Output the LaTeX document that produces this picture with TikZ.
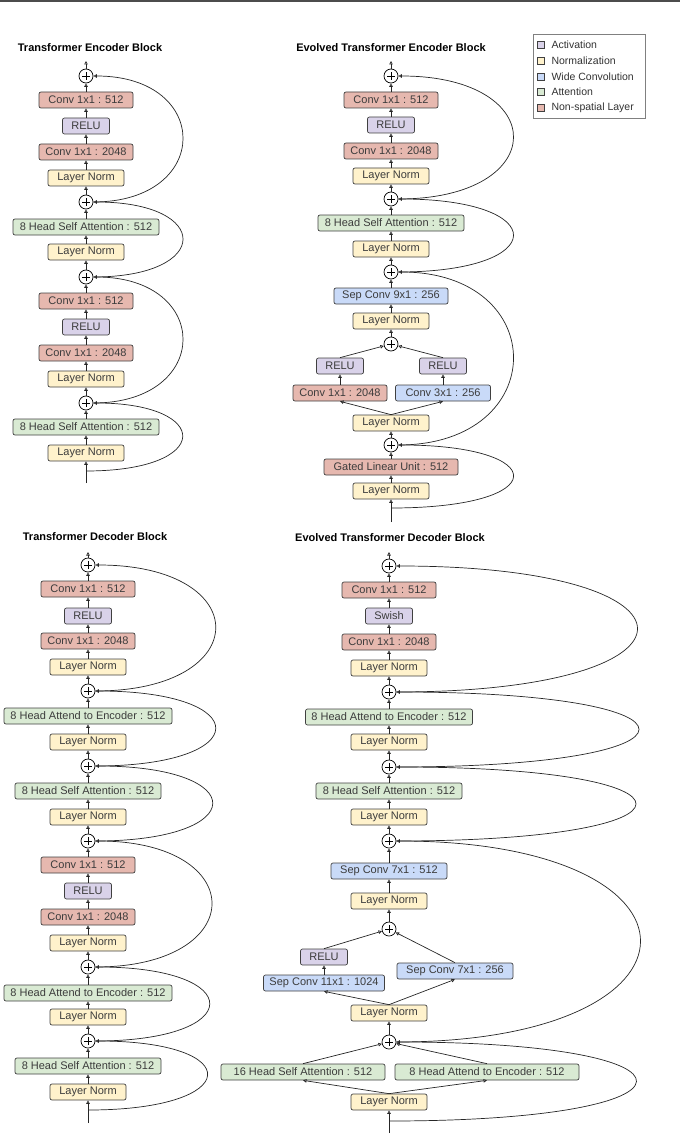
\documentclass[tikz,border=0pt]{standalone}
\usepackage{fontspec}
\setmainfont{Liberation Sans}
\usetikzlibrary{arrows.meta}
\definecolor{actfill}{HTML}{D9D2E9}
\definecolor{normfill}{HTML}{FFF2CC}
\definecolor{widefill}{HTML}{C9DAF8}
\definecolor{attnfill}{HTML}{D9EAD3}
\definecolor{nspfill}{HTML}{E6B8AF}
\definecolor{edgegray}{HTML}{404040}
\definecolor{txtgray}{HTML}{3C3C3C}
\begin{document}
\begin{tikzpicture}[x=1pt, y=-1pt, >={Triangle[open,length=3.5pt,width=3.5pt]},
  every node/.style={font=\fontsize{11}{13}\selectfont},
  blockbox/.style={draw=edgegray, rounded corners=2pt, minimum height=16pt, inner xsep=2pt, inner ysep=0pt, text=txtgray, line width=0.7pt},
  act/.style={blockbox, fill=actfill, minimum width=47pt},
  norm/.style={blockbox, fill=normfill, minimum width=76pt},
  wide/.style={blockbox, fill=widefill},
  attn/.style={blockbox, fill=attnfill},
  nsp/.style={blockbox, fill=nspfill},
  conv/.style={nsp, minimum width=94pt},
  plus/.style={circle, draw=black, minimum size=14pt, inner sep=0pt, line width=0.7pt,
    path picture={\draw[line width=0.7pt] ([xshift=-4pt]path picture bounding box.center) -- ([xshift=4pt]path picture bounding box.center)
      ([yshift=-4pt]path picture bounding box.center) -- ([yshift=4pt]path picture bounding box.center);}},
  blocktitle/.style={font=\fontsize{11}{13}\selectfont\bfseries},
  flow/.style={->, line width=0.7pt, black!85},
  skipline/.style={->, line width=0.7pt, black!85},
  legkey/.style={draw=edgegray, minimum size=7pt, inner sep=0pt, line width=0.6pt}]
\useasboundingbox (0,0) rectangle (680,1134);
\draw[line width=2pt, black!70] (0,1) -- (680,1);

% legend
\draw[gray, line width=0.7pt, fill=white] (533,34) rectangle (645,118);
\foreach \c/\t [count=\i] in {actfill/Activation, normfill/Normalization, widefill/Wide Convolution, attnfill/Attention, nspfill/Non-spatial Layer} {
  \node[legkey, fill=\c] (k\i) at (541,29+15.8*\i) {};
  \node[anchor=west, font=\fontsize{10.5}{12}\selectfont, text=black!80] (l\i) at (548,29+15.8*\i) {\t};
}

% Transformer encoder
\node[blocktitle] (tenc) at (90,48) {Transformer Encoder Block};
\coordinate (etop) at (86,61);
\node[plus] (ea1) at (86,76) {};
\node[conv] (ec1) at (86,100) {Conv 1x1 : 512};
\node[act] (er1) at (86,126) {RELU};
\node[conv] (ec2) at (86,152) {Conv 1x1 : 2048};
\node[norm] (en1) at (86,178) {Layer Norm};
\node[plus] (ea2) at (86,202) {};
\node[attn, minimum width=146pt] (es1) at (86,227) {8 Head Self Attention : 512};
\node[norm] (en2) at (86,252) {Layer Norm};
\node[plus] (ea3) at (86,277) {};
\node[conv] (ec3) at (86,301) {Conv 1x1 : 512};
\node[act] (er2) at (86,327) {RELU};
\node[conv] (ec4) at (86,353) {Conv 1x1 : 2048};
\node[norm] (en3) at (86,379) {Layer Norm};
\node[plus] (ea4) at (86,403) {};
\node[attn, minimum width=146pt] (es2) at (86,427) {8 Head Self Attention : 512};
\node[norm] (en4) at (86,453) {Layer Norm};
\coordinate (ein) at (86,471);
\coordinate (ebot) at (86,483);
\draw[line width=0.7pt, black!85] (ebot) -- (ein);
\foreach \a/\b in {ein/en4, en4/es2, es2/ea4, ea4/en3, en3/ec4, ec4/er2, er2/ec3, ec3/ea3, ea3/en2, en2/es1, es1/ea2, ea2/en1, en1/ec2, ec2/er1, er1/ec1, ec1/ea1, ea1/etop}
  \draw[flow] (\a) -- (\b);
\draw[skipline] (ein) .. controls +(128,0) and +(119,0) .. (ea4.east);
\draw[skipline] (ea4.east) .. controls +(119,0) and +(119,0) .. (ea3.east);
\draw[skipline] (ea3.east) .. controls +(119,0) and +(119,0) .. (ea2.east);
\draw[skipline] (ea2.east) .. controls +(119,0) and +(119,0) .. (ea1.east);

% Evolved transformer encoder
\node[blocktitle] (venc) at (391,48) {Evolved Transformer Encoder Block};
\coordinate (vtop) at (391,61);
\node[plus] (va1) at (391,76) {};
\node[conv] (vc1) at (391,100) {Conv 1x1 : 512};
\node[act] (vr1) at (391,125) {RELU};
\node[conv] (vc2) at (391,151) {Conv 1x1 : 2048};
\node[norm] (vn1) at (391,176) {Layer Norm};
\node[plus] (va2) at (391,199) {};
\node[attn, minimum width=146pt] (vs1) at (391,223) {8 Head Self Attention : 512};
\node[norm] (vn2) at (391,249) {Layer Norm};
\node[plus] (va3) at (391,272) {};
\node[wide, minimum width=114pt] (vw1) at (391,296) {Sep Conv 9x1 : 256};
\node[norm] (vn3) at (391,321) {Layer Norm};
\node[plus] (va4) at (391,344) {};
\node[act] (vrl) at (340,366) {RELU};
\node[act] (vrr) at (443,366) {RELU};
\node[conv] (vcl) at (340,393) {Conv 1x1 : 2048};
\node[wide, minimum width=95pt] (vwr) at (443,393) {Conv 3x1 : 256};
\node[norm] (vn4) at (391,423) {Layer Norm};
\node[plus] (va5) at (391,445) {};
\node[nsp, minimum width=134pt] (vg) at (391,467) {Gated Linear Unit : 512};
\node[norm] (vn5) at (391,491) {Layer Norm};
\coordinate (vin) at (391,508);
\coordinate (vbot) at (391,522);
\draw[line width=0.7pt, black!85] (vbot) -- (vin);
\foreach \a/\b in {vin/vn5, vn5/vg, vg/va5, va5/vn4, vcl/vrl, vwr/vrr, va4/vn3, vn3/vw1, vw1/va3, va3/vn2, vn2/vs1, vs1/va2, va2/vn1, vn1/vc2, vc2/vr1, vr1/vc1, vc1/va1, va1/vtop}
  \draw[flow] (\a) -- (\b);
\draw[flow] (vn4.north) -- (vcl.south);
\draw[flow] (vn4.north) -- (vwr.south);
\draw[flow] (vrl.north) -- (va4);
\draw[flow] (vrr.north) -- (va4);
\draw[skipline] (vin) .. controls +(163,0) and +(153,0) .. (va5.east);
\draw[skipline] (va5.east) .. controls +(153,0) and +(153,0) .. (va3.east);
\draw[skipline] (va3.east) .. controls +(153,0) and +(153,0) .. (va2.east);
\draw[skipline] (va2.east) .. controls +(153,0) and +(153,0) .. (va1.east);

% Transformer decoder
\node[blocktitle] (tdec) at (95,537) {Transformer Decoder Block};
\coordinate (dtop) at (88,552);
\node[plus] (da1) at (88,565) {};
\node[conv] (dc1) at (88,589) {Conv 1x1 : 512};
\node[act] (dr1) at (88,616) {RELU};
\node[conv] (dc2) at (88,641) {Conv 1x1 : 2048};
\node[norm] (dn1) at (88,667) {Layer Norm};
\node[plus] (da2) at (88,691) {};
\node[attn, minimum width=168pt] (dt1) at (88,716) {8 Head Attend to Encoder : 512};
\node[norm] (dn2) at (88,742) {Layer Norm};
\node[plus] (da3) at (88,766) {};
\node[attn, minimum width=146pt] (ds1) at (88,791) {8 Head Self Attention : 512};
\node[norm] (dn3) at (88,817) {Layer Norm};
\node[plus] (da4) at (88,841) {};
\node[conv] (dc3) at (88,865) {Conv 1x1 : 512};
\node[act] (dr2) at (88,891) {RELU};
\node[conv] (dc4) at (88,917) {Conv 1x1 : 2048};
\node[norm] (dn4) at (88,943) {Layer Norm};
\node[plus] (da5) at (88,967) {};
\node[attn, minimum width=168pt] (dt2) at (88,993) {8 Head Attend to Encoder : 512};
\node[norm] (dn5) at (88,1017) {Layer Norm};
\node[plus] (da6) at (88,1041) {};
\node[attn, minimum width=146pt] (ds2) at (88,1066) {8 Head Self Attention : 512};
\node[norm] (dn6) at (88,1092) {Layer Norm};
\coordinate (din) at (88,1110);
\coordinate (dbot) at (88,1123);
\draw[line width=0.7pt, black!85] (dbot) -- (din);
\foreach \a/\b in {din/dn6, dn6/ds2, ds2/da6, da6/dn5, dn5/dt2, dt2/da5, da5/dn4, dn4/dc4, dc4/dr2, dr2/dc3, dc3/da4, da4/dn3, dn3/ds1, ds1/da3, da3/dn2, dn2/dt1, dt1/da2, da2/dn1, dn1/dc2, dc2/dr1, dr1/dc1, dc1/da1, da1/dtop}
  \draw[flow] (\a) -- (\b);
\draw[skipline] (din) .. controls +(156,0) and +(152,0) .. (da6.east);
\draw[skipline] (da6.east) .. controls +(152,0) and +(152,0) .. (da5.east);
\draw[skipline] (da5.east) .. controls +(155,0) and +(155,0) .. (da4.east);
\draw[skipline] (da4.east) .. controls +(156,0) and +(156,0) .. (da3.east);
\draw[skipline] (da3.east) .. controls +(160,0) and +(160,0) .. (da2.east);
\draw[skipline] (da2.east) .. controls +(160,0) and +(160,0) .. (da1.east);

% Evolved transformer decoder
\node[blocktitle] (vdec) at (390,538) {Evolved Transformer Decoder Block};
\coordinate (wtop) at (389,552);
\node[plus] (wa1) at (389,566) {};
\node[conv] (wc1) at (389,590) {Conv 1x1 : 512};
\node[act] (wx) at (389,616) {Swish};
\node[conv] (wc2) at (389,642) {Conv 1x1 : 2048};
\node[norm] (wn1) at (389,668) {Layer Norm};
\node[plus] (wa2) at (389,692) {};
\node[attn, minimum width=167pt] (wt1) at (389,717) {8 Head Attend to Encoder : 512};
\node[norm] (wn2) at (389,742) {Layer Norm};
\node[plus] (wa3) at (389,767) {};
\node[attn, minimum width=146pt] (ws1) at (389,791) {8 Head Self Attention : 512};
\node[norm] (wn3) at (389,817) {Layer Norm};
\node[plus] (wa4) at (389,841) {};
\node[wide, minimum width=116pt] (ww1) at (389,871) {Sep Conv 7x1 : 512};
\node[norm] (wn4) at (389,901) {Layer Norm};
\node[plus] (wa5) at (389,929) {};
\node[act] (wr) at (324,957) {RELU};
\node[wide, minimum width=121pt] (ww2) at (324,983) {Sep Conv 11x1 : 1024};
\node[wide, minimum width=116pt] (ww3) at (455,971) {Sep Conv 7x1 : 256};
\node[norm] (wn5) at (389,1013) {Layer Norm};
\node[plus] (wa6) at (389,1042) {};
\node[attn, minimum width=164pt] (ws2) at (303,1072) {16 Head Self Attention : 512};
\node[attn, minimum width=184pt] (wt2) at (487,1072) {8 Head Attend to Encoder : 512};
\node[norm] (wn6) at (389,1102) {Layer Norm};
\coordinate (win) at (389,1121);
\coordinate (wbot) at (389,1133);
\draw[line width=0.7pt, black!85] (wbot) -- (win);
\foreach \a/\b in {win/wn6, wa6/wn5, ww2/wr, wa5/wn4, wn4/ww1, ww1/wa4, wa4/wn3, wn3/ws1, ws1/wa3, wa3/wn2, wn2/wt1, wt1/wa2, wa2/wn1, wn1/wc2, wc2/wx, wx/wc1, wc1/wa1, wa1/wtop}
  \draw[flow] (\a) -- (\b);
\draw[flow] (wn6.north) -- (ws2.south);
\draw[flow] (wn6.north) -- (wt2.south);
\draw[flow] (ws2.north) -- (wa6);
\draw[flow] (wt2.north) -- (wa6);
\draw[flow] (wn5.north) -- (ww2.south);
\draw[flow] (wn5.north) -- (ww3.south);
\draw[flow] (wr.north) -- (wa5);
\draw[flow] (ww3.north) -- (wa5);
\draw[skipline] (win) .. controls +(328,0) and +(321,0) .. (wa6.east);
\draw[skipline] (wa6.east) .. controls +(325,0) and +(325,0) .. (wa4.east);
\draw[skipline] (wa4.east) .. controls +(319,0) and +(319,0) .. (wa3.east);
\draw[skipline] (wa3.east) .. controls +(323,0) and +(323,0) .. (wa2.east);
\draw[skipline] (wa2.east) .. controls +(321,0) and +(321,0) .. (wa1.east);
\end{tikzpicture}
\end{document}
